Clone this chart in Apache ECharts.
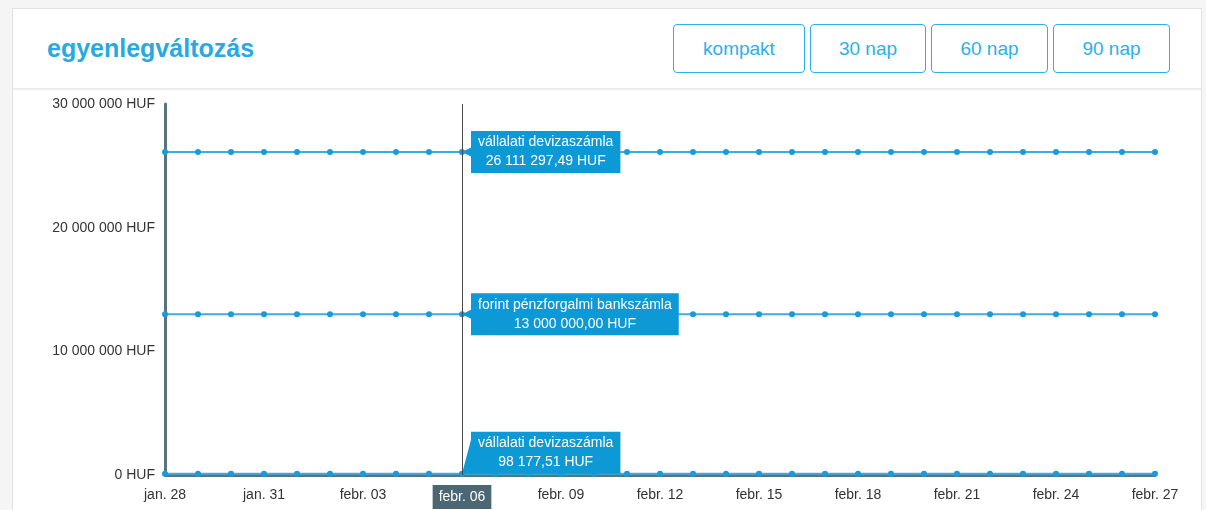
<!DOCTYPE html>
<html>
<head>
<meta charset="utf-8">
<title>egyenlegváltozás</title>
<script src="https://cdn.jsdelivr.net/npm/echarts@6/dist/echarts.min.js"></script>
<style>
  html, body { margin: 0; padding: 0; width: 1206px; height: 510px; overflow: hidden;
    background: #f5f5f5; font-family: "Liberation Sans", Arial, sans-serif; }
  .card { position: absolute; left: 12px; top: 8px; width: 1190px; height: 540px;
    background: #fff; border: 1px solid #e2e2e2; box-sizing: border-box; }
  .divider { position: absolute; left: 13px; top: 88px; width: 1188px; height: 2px; background: #ececec; }
  .title { position: absolute; left: 47px; top: 36px; margin: 0; font-size: 25px; line-height: 25px;
    font-weight: bold; color: #29a9e1; }
  .btn { position: absolute; top: 24px; height: 49px; box-sizing: border-box;
    border: 1.5px solid #2cb0ea; border-radius: 4px; color: #2cb0ea; font-size: 19px;
    display: flex; align-items: center; justify-content: center; background: #fff; }
  #chart { position: absolute; left: 0; top: 0; width: 1206px; height: 510px; }
</style>
</head>
<body>
<div class="card"></div>
<div class="divider"></div>
<h2 class="title">egyenlegváltozás</h2>
<div class="btn" style="left:673px;width:132px;">kompakt</div>
<div class="btn" style="left:810px;width:116px;">30 nap</div>
<div class="btn" style="left:931px;width:117px;">60 nap</div>
<div class="btn" style="left:1053px;width:117px;">90 nap</div>
<div id="chart"></div>
<script>
// Days shown on the horizontal axis
const days = [
  'jan. 28', 'jan. 29', 'jan. 30', 'jan. 31',
  'febr. 01', 'febr. 02', 'febr. 03', 'febr. 04', 'febr. 05', 'febr. 06',
  'febr. 07', 'febr. 08', 'febr. 09', 'febr. 10', 'febr. 11', 'febr. 12',
  'febr. 13', 'febr. 14', 'febr. 15', 'febr. 16', 'febr. 17', 'febr. 18',
  'febr. 19', 'febr. 20', 'febr. 21', 'febr. 22', 'febr. 23', 'febr. 24',
  'febr. 25', 'febr. 26', 'febr. 27'
];

// Account names
const accountNames = [
  'vállalati devizaszámla',
  'forint pénzforgalmi bankszámla',
  'vállalati devizaszámla'
];

// Daily balances per account (HUF)
const devizaBalance = [
  26111297.49, 26111297.49, 26111297.49, 26111297.49, 26111297.49, 26111297.49,
  26111297.49, 26111297.49, 26111297.49, 26111297.49, 26111297.49, 26111297.49,
  26111297.49, 26111297.49, 26111297.49, 26111297.49, 26111297.49, 26111297.49,
  26111297.49, 26111297.49, 26111297.49, 26111297.49, 26111297.49, 26111297.49,
  26111297.49, 26111297.49, 26111297.49, 26111297.49, 26111297.49, 26111297.49,
  26111297.49
];
const forintBalance = [
  13000000.00, 13000000.00, 13000000.00, 13000000.00, 13000000.00, 13000000.00,
  13000000.00, 13000000.00, 13000000.00, 13000000.00, 13000000.00, 13000000.00,
  13000000.00, 13000000.00, 13000000.00, 13000000.00, 13000000.00, 13000000.00,
  13000000.00, 13000000.00, 13000000.00, 13000000.00, 13000000.00, 13000000.00,
  13000000.00, 13000000.00, 13000000.00, 13000000.00, 13000000.00, 13000000.00,
  13000000.00
];
const deviza2Balance = [
  98177.51, 98177.51, 98177.51, 98177.51, 98177.51, 98177.51,
  98177.51, 98177.51, 98177.51, 98177.51, 98177.51, 98177.51,
  98177.51, 98177.51, 98177.51, 98177.51, 98177.51, 98177.51,
  98177.51, 98177.51, 98177.51, 98177.51, 98177.51, 98177.51,
  98177.51, 98177.51, 98177.51, 98177.51, 98177.51, 98177.51,
  98177.51
];

// Value axis ticks
const yTicks = [0, 10000000, 20000000, 30000000];

// Selected day
const focusDay = 'febr. 06';

const FONT = '"Liberation Sans", Arial, sans-serif';
const LINE_BLUE = '#3aaee3';
const DOT_BLUE = '#1a9ad8';
const CALLOUT_BLUE = '#0d98d6';
const AXIS_SLATE = '#587482';

function groupDigits(s) {
  return s.replace(/\B(?=(\d{3})+(?!\d))/g, ' ');
}
function formatHUF(v, decimals) {
  const parts = v.toFixed(decimals).split('.');
  return groupDigits(parts[0]) + (parts[1] ? ',' + parts[1] : '') + ' HUF';
}

const focusIndex = days.indexOf(focusDay);

// Callout tails: a side wedge for centred boxes, an upward wedge for the box sitting on the baseline
const sideTail = 'path://M0,5L10,0L10,10Z';
const riseTail = 'path://M0,34L9,0L10,0L10,34Z';

function buildSeries(name, values, raised) {
  const label = {
    show: true,
    position: 'right',
    distance: 6,
    offset: raised ? [0, -21] : [0, 0],
    align: 'left',
    verticalAlign: 'middle',
    backgroundColor: CALLOUT_BLUE,
    padding: [2, 7, 2, 7],
    formatter: () => '{t|' + name + '}\n{t|' + formatHUF(values[focusIndex], 2) + '}',
    rich: {
      t: {
        align: 'center',
        color: '#fff',
        fontFamily: FONT,
        fontSize: 14,
        lineHeight: 19
      }
    }
  };
  return {
    type: 'line',
    name: name,
    symbol: 'circle',
    symbolSize: 6,
    showSymbol: true,
    lineStyle: { color: LINE_BLUE, width: 2 },
    itemStyle: { color: DOT_BLUE },
    emphasis: { disabled: true },
    silent: true,
    data: values.map((v, i) => i === focusIndex ? { value: v, label: label } : v),
    markPoint: {
      silent: true,
      symbol: raised ? riseTail : sideTail,
      symbolSize: raised ? [10, 34] : [10, 10],
      symbolOffset: raised ? [5, -17] : [5, 0],
      symbolKeepAspect: false,
      itemStyle: { color: CALLOUT_BLUE },
      label: { show: false },
      data: [{ coord: [focusDay, values[focusIndex]] }]
    }
  };
}

const chart = echarts.init(document.getElementById('chart'), null, { renderer: 'canvas' });

chart.setOption({
  animation: false,
  backgroundColor: 'transparent',
  textStyle: { fontFamily: FONT },
  grid: { left: 165, right: 51, top: 104, bottom: 35, containLabel: false },
  xAxis: {
    type: 'category',
    data: days,
    boundaryGap: false,
    axisLine: { show: true, lineStyle: { color: AXIS_SLATE, width: 3 } },
    axisTick: { show: false },
    splitLine: { show: false },
    axisLabel: {
      interval: 2,
      margin: 13,
      color: '#333',
      fontFamily: FONT,
      fontSize: 14
    },
    axisPointer: {
      show: true,
      type: 'line',
      value: focusIndex,
      status: 'show',
      snap: true,
      triggerTooltip: false,
      lineStyle: { color: '#4a4a4a', width: 1, type: 'solid' },
      label: {
        show: true,
        margin: 10,
        backgroundColor: '#4b6774',
        color: '#fff',
        fontFamily: FONT,
        fontSize: 14,
        padding: [5, 6, 5, 6],
        borderRadius: 0,
        shadowBlur: 0
      }
    }
  },
  yAxis: {
    type: 'value',
    min: yTicks[0],
    max: yTicks[yTicks.length - 1],
    interval: yTicks[1] - yTicks[0],
    axisLine: { show: true, lineStyle: { color: AXIS_SLATE, width: 3 } },
    axisTick: { show: false },
    splitLine: { show: false },
    axisLabel: {
      margin: 10,
      color: '#333',
      fontFamily: FONT,
      fontSize: 14,
      formatter: v => formatHUF(v, 0)
    }
  },
  series: [
    buildSeries(accountNames[0], devizaBalance, false),
    buildSeries(accountNames[1], forintBalance, false),
    buildSeries(accountNames[2], deviza2Balance, true)
  ]
});
</script>
</body>
</html>
